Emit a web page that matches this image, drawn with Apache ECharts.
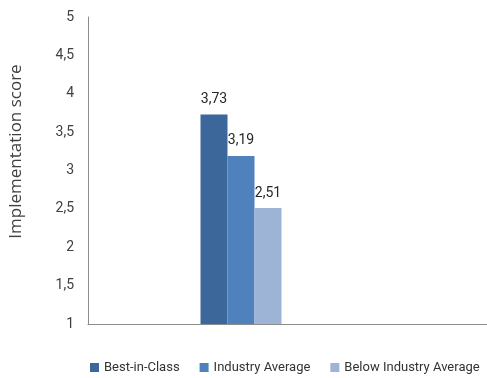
<!DOCTYPE html>
<html><head><meta charset="utf-8">
<script src="https://cdn.jsdelivr.net/npm/echarts@6/dist/echarts.min.js"></script>
<style>html,body{margin:0;padding:0;background:#fff}#c{width:487px;height:378px}</style>
</head><body><div id="c"></div>
<script>
const categories = [''];
const seriesNames = ['Best-in-Class', 'Industry Average', 'Below Industry Average'];
const bestInClass = [3.73];
const industryAverage = [3.19];
const belowIndustryAverage = [2.51];
const colors = ['#3C679A', '#4F81BD', '#9DB4D6'];
const narrow = "Roboto, 'Liberation Sans', sans-serif";
const fmt = v => String(v).replace('.', ',');
const chart = echarts.init(document.getElementById('c'));
const values = [bestInClass, industryAverage, belowIndustryAverage];
chart.setOption({
  animation: false,
  color: colors,
  grid: [
    {left: 88, top: 17, bottom: 54, width: 306},
    {left: 88, top: 17, bottom: 54, right: 0}
  ],
  legend: {
    bottom: 4, left: 90, width: 397, itemWidth: 9, itemHeight: 9, itemGap: 20,
    icon: 'rect', padding: 0,
    textStyle: {fontFamily: narrow, fontSize: 13, color: '#333'},
    data: seriesNames
  },
  xAxis: [
    {type: 'category', data: categories, gridIndex: 0, axisLine: {show: false}, axisTick: {show: false}, axisLabel: {show: false}},
    {type: 'category', data: categories, gridIndex: 1, axisLine: {show: true, lineStyle: {color: '#8c8c8c'}}, axisTick: {show: false}, axisLabel: {show: false}}
  ],
  yAxis: [
    {type: 'value', gridIndex: 0, min: 1, max: 5, interval: 0.5,
     name: 'Implementation score', nameLocation: 'middle', nameGap: 63,
     nameTextStyle: {fontFamily: "'Open Sans', sans-serif", fontSize: 17, color: '#404040', padding: [0, 0, 0, 38]},
     axisLine: {show: true, lineStyle: {color: '#8c8c8c'}}, axisTick: {show: false},
     splitLine: {show: false},
     axisLabel: {formatter: fmt, fontFamily: narrow, fontSize: 14, color: '#404040', margin: 14}},
    {type: 'value', gridIndex: 1, min: 1, max: 5, show: false}
  ],
  series: seriesNames.map((n, i) => ({
    name: n, type: 'bar', data: values[i], barWidth: 27, barGap: '0%',
    xAxisIndex: 0, yAxisIndex: 0,
    label: {show: true, position: 'top', distance: 8, formatter: p => fmt(p.value),
            fontFamily: narrow, fontSize: 14, color: '#262626'}
  }))
});
</script></body></html>
